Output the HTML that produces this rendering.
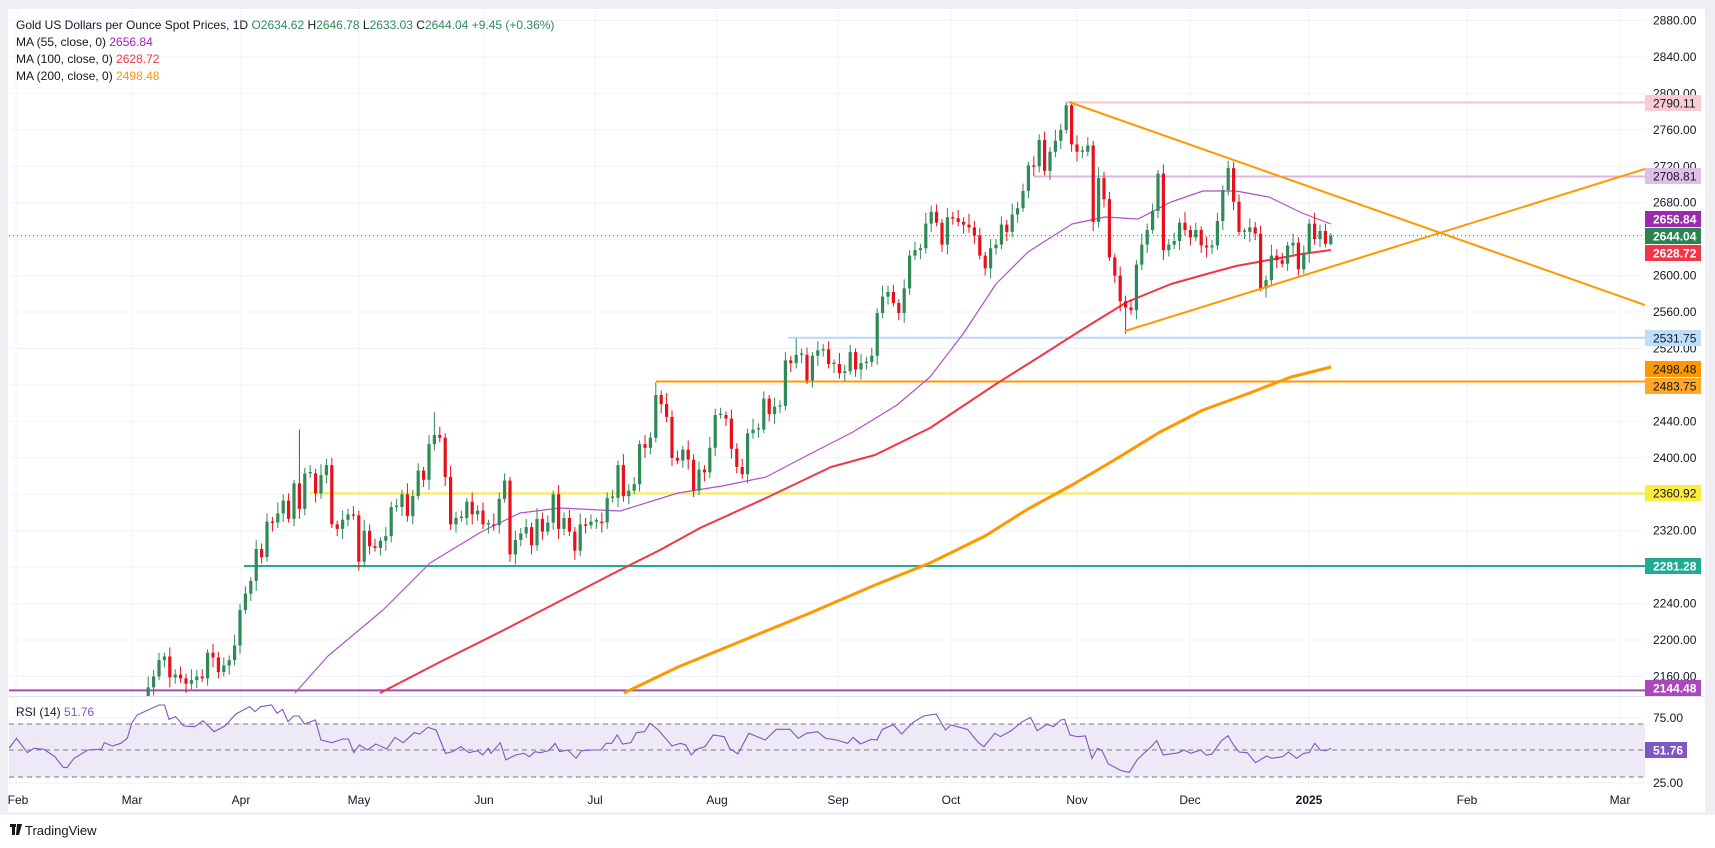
<!DOCTYPE html>
<html><head><meta charset="utf-8"><style>
html,body{margin:0;padding:0;background:#fff;}
svg{display:block;font-family:"Liberation Sans",sans-serif;}
</style></head><body>
<svg width="1715" height="848" viewBox="0 0 1715 848" xmlns="http://www.w3.org/2000/svg">
<defs>
<clipPath id="cp"><rect x="9" y="10" width="1636" height="686"/></clipPath>
<clipPath id="cr"><rect x="9" y="697" width="1636" height="89"/></clipPath>
</defs>
<rect x="0" y="0" width="1715" height="848" fill="#fff"/>
<rect x="0" y="0" width="1715" height="9" fill="#eeeef3"/>
<rect x="0" y="0" width="8" height="813" fill="#eeeef3"/>
<rect x="1705" y="0" width="10" height="813" fill="#eeeef3"/>
<rect x="0" y="812" width="1715" height="3" fill="#eeeef3"/>
<g stroke="#f0f3fa" stroke-width="1">
<line x1="9" x2="1645" y1="20.5" y2="20.5"/><line x1="9" x2="1645" y1="56.9" y2="56.9"/><line x1="9" x2="1645" y1="93.4" y2="93.4"/><line x1="9" x2="1645" y1="129.8" y2="129.8"/><line x1="9" x2="1645" y1="166.3" y2="166.3"/><line x1="9" x2="1645" y1="202.7" y2="202.7"/><line x1="9" x2="1645" y1="239.2" y2="239.2"/><line x1="9" x2="1645" y1="275.6" y2="275.6"/><line x1="9" x2="1645" y1="312" y2="312"/><line x1="9" x2="1645" y1="348.5" y2="348.5"/><line x1="9" x2="1645" y1="384.9" y2="384.9"/><line x1="9" x2="1645" y1="421.4" y2="421.4"/><line x1="9" x2="1645" y1="457.8" y2="457.8"/><line x1="9" x2="1645" y1="494.3" y2="494.3"/><line x1="9" x2="1645" y1="530.7" y2="530.7"/><line x1="9" x2="1645" y1="567.1" y2="567.1"/><line x1="9" x2="1645" y1="603.6" y2="603.6"/><line x1="9" x2="1645" y1="640" y2="640"/><line x1="9" x2="1645" y1="676.5" y2="676.5"/>
<line x1="9" x2="1645" y1="718" y2="718"/><line x1="9" x2="1645" y1="783" y2="783"/>
<line x1="16" x2="16" y1="10" y2="786"/><line x1="132" x2="132" y1="10" y2="786"/><line x1="241" x2="241" y1="10" y2="786"/><line x1="359" x2="359" y1="10" y2="786"/><line x1="484" x2="484" y1="10" y2="786"/><line x1="595" x2="595" y1="10" y2="786"/><line x1="717" x2="717" y1="10" y2="786"/><line x1="838" x2="838" y1="10" y2="786"/><line x1="951" x2="951" y1="10" y2="786"/><line x1="1077" x2="1077" y1="10" y2="786"/><line x1="1190" x2="1190" y1="10" y2="786"/><line x1="1309" x2="1309" y1="10" y2="786"/><line x1="1467" x2="1467" y1="10" y2="786"/><line x1="1620" x2="1620" y1="10" y2="786"/>
</g>
<rect x="9" y="724" width="1636" height="53" fill="#ede9f7"/>
<g stroke="#787b86" stroke-dasharray="5,4" stroke-width="1">
<line x1="9" y1="724" x2="1645" y2="724"/><line x1="9" y1="750" x2="1645" y2="750"/><line x1="9" y1="777" x2="1645" y2="777"/>
</g>
<line x1="9" y1="696.5" x2="1705" y2="696.5" stroke="#e0e3eb"/>

<g clip-path="url(#cp)" stroke-width="2">
<line x1="1066" x2="1645" y1="102.4" y2="102.4" stroke="#f7c5ca"/>
<line x1="1034" x2="1645" y1="176.5" y2="176.5" stroke="#dcb5e4"/>
<line x1="788" x2="1645" y1="337.8" y2="337.8" stroke="#b8d8f5"/>
<line x1="656" x2="1645" y1="381.5" y2="381.5" stroke="#ff9800"/>
<line x1="310" x2="1645" y1="493.4" y2="493.4" stroke="#ffeb3b"/>
<line x1="244" x2="1645" y1="566" y2="566" stroke="#22ab94"/>
<line x1="9" x2="1645" y1="690.4" y2="690.4" stroke="#ab47bc"/>
<line x1="9" x2="1645" y1="235.6" y2="235.6" stroke="#2e7d4f" stroke-width="1" stroke-dasharray="1,3"/>
</g>

<g clip-path="url(#cp)" fill="none" stroke-linejoin="round">
<polyline stroke="#ff9800" stroke-width="3" points="624,693 678,667 744,640 810,613 875,585 930,563 985,536 1028,509 1072,485 1116,459 1160,432 1203,410 1247,394 1291,377 1331,367"/>
<polyline stroke="#f23645" stroke-width="2" points="380,693 440,662 500,632 560,601 620,570 660,550 700,528 766,498 831,467 875,455 930,428 963,406 996,384 1039,357 1083,329 1127,302 1171,284 1203,275 1236,266 1269,260 1302,254 1331,250"/>
<polyline stroke="#b04fcf" stroke-width="1.2" points="295,693 328,656 383,610 430,563 481,532 520,513 560,508 620,511 678,493 722,486 766,477 810,454 853,432 897,405 930,377 963,334 996,284 1028,252 1072,224 1105,217 1138,219 1171,202 1203,191 1236,191 1269,197 1302,213 1331,224"/>
</g>

<g clip-path="url(#cp)">
<g transform="matrix(5.4 0 0 -0.9111 132 2644.47)" fill="none">
<path stroke="#2f8a57" stroke-width="1" vector-effect="non-scaling-stroke" d="M0 2037V2089M1 2078V2124M2 2105V2133M3 2122V2160M4 2139V2167M5 2156V2186M6 2170V2186M8 2152V2168M11 2146V2168M12 2147V2167M14 2150V2190M17 2160V2181M18 2162V2183M19 2172V2206M20 2185V2240M21 2229V2259M22 2243V2269M23 2254V2310M25 2286V2339M27 2323V2351M28 2330V2360M30 2325V2376M32 2337V2389M33 2378V2392M35 2355V2393M36 2372V2399M39 2311V2342M40 2325V2344M43 2280V2332M46 2293V2313M47 2298V2324M48 2307V2352M49 2341V2355M50 2336V2365M52 2327V2365M53 2354V2394M55 2365V2425M56 2408V2450M60 2318V2341M61 2330V2342M62 2326V2356M64 2331V2348M66 2317V2332M68 2317V2362M69 2351V2383M71 2283V2320M72 2303V2323M73 2312V2333M75 2298V2345M77 2315V2337M78 2321V2364M80 2315V2340M83 2292V2339M85 2322V2338M86 2322V2334M88 2322V2362M89 2351V2365M90 2346V2397M92 2349V2371M93 2360V2379M94 2363V2419M96 2404V2428M97 2417V2483M102 2389V2413M105 2359V2396M107 2378V2423M108 2402V2454M109 2443V2455M114 2372V2432M115 2421V2443M116 2422V2438M117 2427V2473M119 2437V2466M120 2449V2463M121 2452V2516M123 2498V2531M124 2504V2520M126 2477V2516M127 2501V2528M128 2511V2525M130 2493V2508M132 2484V2502M133 2491V2524M135 2486V2514M136 2497V2511M137 2500V2521M138 2502V2564M139 2553V2589M140 2568V2589M143 2548V2596M144 2579V2628M145 2617V2637M146 2618V2635M147 2624V2669M148 2648V2677M151 2623V2674M159 2597V2640M160 2623V2640M161 2629V2665M163 2642V2679M164 2658V2681M165 2670V2701M166 2685V2725M168 2713V2755M170 2705V2741M171 2730V2760M172 2739V2767M173 2756V2790M176 2729V2742M177 2731V2752M179 2653V2719M186 2552V2617M187 2606V2646M188 2625V2657M189 2646V2679M190 2663V2716M192 2621V2640M193 2629V2647M194 2628V2663M197 2638V2658M200 2624V2639M201 2628V2669M202 2650V2699M203 2688V2726M206 2640V2652M207 2637V2663M210 2576V2600M211 2589V2634M214 2605V2637M215 2622V2646M217 2602V2633M218 2614V2662M220 2631V2656M222 2633V2646.8"/>
<path stroke="#2f8a57" stroke-width="3.2" vector-effect="non-scaling-stroke" d="M0 2044V2083M1 2083V2115M2 2115V2128M3 2128V2148M4 2148V2160M5 2160V2178M6 2178V2182M8 2159V2162M11 2152V2156M12 2156V2160M14 2158V2186M17 2165V2172M18 2172V2178M19 2178V2194M20 2194V2233M21 2233V2251M22 2251V2265M23 2265V2300M25 2291V2330M27 2329V2339M28 2339V2353M30 2333V2372M32 2344V2383M33 2383V2384.5M35 2361V2381M36 2381V2392M39 2322V2332M40 2332V2338M43 2286V2320M46 2301V2309M47 2309V2314M48 2314V2346M49 2346V2347.5M50 2346V2360M52 2336V2358M53 2358V2386M55 2376V2415M56 2415V2425M60 2327V2334M61 2334V2335.5M62 2334V2352M64 2338V2342M66 2327V2328.5M68 2326V2355M69 2355V2375M71 2294V2310M72 2310V2317M73 2317V2324M75 2304V2333M77 2319V2329M78 2329V2360M80 2322V2334M83 2298V2327M85 2326V2330M86 2330V2331.5M88 2329V2356M89 2356V2357.5M90 2356V2392M92 2358V2364M93 2364V2371M94 2371V2415M96 2411V2422M97 2422V2469M102 2397V2409M105 2364V2387M107 2384V2411M108 2411V2447M109 2447V2448.5M114 2382V2427M115 2427V2431M116 2431V2432.5M117 2431V2465M119 2448V2456M120 2456V2457.5M121 2457V2507M123 2504V2513M124 2513V2514.5M126 2485V2512M127 2512V2518M128 2518V2519.5M130 2503V2504.5M132 2493V2495M133 2495V2516M135 2497V2504M136 2504V2505.5M137 2505V2512M138 2512V2559M139 2559V2577M140 2577V2582M143 2559V2586M144 2586V2622M145 2622V2628M146 2628V2630M147 2630V2657M148 2657V2670M151 2634V2664M159 2608V2630M160 2630V2634M161 2634V2656M163 2648V2667M164 2667V2674M165 2674V2693M166 2693V2721M168 2720V2749M170 2715V2736M171 2736V2748M172 2748V2760M173 2760V2787M176 2736V2737.5M177 2736V2743M179 2659V2707M186 2562V2612M187 2612V2634M188 2634V2650M189 2650V2671M190 2671V2712M192 2628V2634M193 2634V2638M194 2638V2658M197 2642V2650M200 2631V2633M201 2633V2660M202 2660V2694M203 2694V2718M206 2648V2649.5M207 2648V2653M210 2586V2595M211 2595V2622M214 2613V2633M215 2633V2636M217 2607V2624M218 2624V2657M220 2640V2649M222 2634.62V2644.04"/>
<path stroke="#e8101a" stroke-width="1" vector-effect="non-scaling-stroke" d="M7 2148V2192M9 2153V2171M10 2142V2163M13 2154V2168M15 2170V2196M16 2158V2187M24 2284V2306M26 2319V2335M29 2329V2361M31 2333V2431M34 2351V2388M37 2323V2400M38 2314V2331M41 2332V2347M42 2276V2342M44 2294V2327M45 2297V2311M51 2330V2372M54 2368V2390M57 2417V2434M58 2369V2427M59 2321V2391M63 2327V2362M65 2322V2351M67 2320V2339M70 2286V2379M74 2294V2329M76 2310V2340M79 2311V2370M81 2314V2343M82 2288V2324M84 2317V2334M87 2318V2340M91 2352V2404M95 2400V2425M98 2449V2474M99 2439V2471M100 2391V2452M101 2393V2408M103 2387V2419M104 2357V2404M106 2374V2392M110 2435V2451M111 2399V2453M112 2383V2416M113 2377V2399M118 2440V2469M122 2494V2512M125 2481V2521M129 2498V2528M131 2487V2515M134 2489V2520M141 2566V2590M142 2551V2574M149 2654V2678M150 2626V2662M152 2656V2670M153 2654V2672M154 2646V2664M155 2647V2668M156 2635V2660M157 2618V2652M158 2600V2626M162 2638V2661M167 2709V2731M169 2710V2758M174 2736V2791M175 2725V2754M178 2649V2748M180 2675V2714M181 2616V2692M182 2592V2624M183 2561V2610M184 2536V2578M185 2557V2574M191 2617V2722M195 2644V2670M196 2633V2655M198 2625V2654M199 2620V2643M204 2672V2725M205 2644V2689M208 2639V2659M209 2583V2655M212 2608V2629M213 2609V2625M216 2600V2642M219 2634V2669M221 2631V2657"/>
<path stroke="#e8101a" stroke-width="3.2" vector-effect="non-scaling-stroke" d="M7 2182V2159M9 2162V2158M10 2158V2152M13 2160V2158M15 2186V2181M16 2181V2165M24 2300V2291M26 2330V2328.5M29 2353V2333M31 2372V2344M34 2383V2361M37 2392V2327M38 2327V2322M41 2338V2336.5M42 2337V2286M44 2320V2303M45 2303V2301M51 2360V2336M54 2386V2376M57 2425V2422M58 2422V2379M59 2379V2327M63 2352V2338M65 2342V2327M67 2327V2325.5M70 2375V2294M74 2324V2304M76 2333V2319M79 2360V2322M81 2334V2319M82 2319V2298M84 2327V2325.5M87 2330V2328.5M91 2392V2358M95 2415V2411M98 2469V2459M99 2459V2445M100 2445V2400M101 2400V2397M103 2409V2398M104 2398V2364M106 2387V2384M110 2447V2443M111 2443V2410M112 2410V2390M113 2390V2382M118 2465V2448M122 2507V2504M125 2513V2485M129 2519V2503M131 2503V2493M134 2516V2497M141 2582V2570M142 2570V2559M149 2670V2658M150 2658V2634M152 2664V2662.5M153 2663V2659M154 2659V2656M155 2656V2653M156 2653V2644M157 2644V2622M158 2622V2608M162 2656V2648M167 2721V2719.5M169 2749V2715M174 2787V2744M175 2744V2736M178 2743V2659M180 2707V2684M181 2684V2620M182 2620V2600M183 2600V2572M184 2572V2565M185 2565V2562M191 2712V2628M195 2658V2650M196 2650V2642M198 2650V2633M199 2633V2631M204 2718V2681M205 2681V2648M208 2653V2646M209 2646V2586M212 2622V2617M213 2617V2613M216 2636V2607M219 2657V2640M221 2649V2635"/>
</g>
</g>

<g clip-path="url(#cp)" stroke="#ff9800" stroke-width="2">
<line x1="1069" y1="102" x2="1645" y2="305"/>
<line x1="1125" y1="331" x2="1645" y2="169"/>
</g>

<g clip-path="url(#cr)" fill="none">
<polyline transform="matrix(0.5486 0 0 0.3333 0 690)" vector-effect="non-scaling-stroke" stroke="#7e57c2" stroke-width="1.1" points="0,165 18,172 30,145 50,188 62,175 80,178 100,200 115,232 122,233 135,205 160,180 185,177 190,158 205,168 220,160 232,145 240,100 250,75 270,60 290,45 300,45 308,88 320,80 335,108 355,110 370,92 390,125 410,108 430,72 455,50 465,65 475,50 495,45 505,70 515,58 525,95 535,78 545,78 555,102 575,90 585,150 605,158 625,147 635,147 645,188 655,165 670,180 685,162 705,177 720,142 735,158 755,128 765,132 780,112 795,120 812,190 825,185 840,170 855,188 870,182 880,195 890,175 895,190 912,158 922,210 940,195 955,190 965,200 975,185 985,188 1000,182 1012,160 1020,185 1035,180 1050,205 1060,182 1080,180 1095,180 1105,160 1115,160 1125,135 1135,162 1150,158 1160,128 1175,125 1185,100 1200,120 1225,168 1240,160 1250,165 1260,195 1270,178 1285,170 1300,135 1320,140 1330,175 1345,192 1365,130 1380,140 1395,150 1415,118 1440,118 1455,145 1470,130 1490,125 1505,145 1525,150 1545,160 1555,142 1568,160"/>
<polyline transform="matrix(0.5486 0 0 0.3333 855 690)" vector-effect="non-scaling-stroke" stroke="#7e57c2" stroke-width="1.1" points="0,148 10,162 30,148 40,150 50,118 70,104 85,132 105,98 125,78 148,72 165,120 175,105 205,118 225,158 235,170 255,130 265,140 285,122 305,95 320,82 332,122 350,103 362,110 375,90 382,88 392,135 405,140 420,138 432,205 442,175 450,182 462,222 485,242 500,247 515,208 540,170 550,152 562,195 590,188 600,180 612,190 630,180 640,195 650,193 668,152 680,137 690,165 700,186 715,188 730,218 750,198 760,205 780,200 790,186 805,205 818,190 828,188 838,160 848,180 858,182 868,175"/>
</g>

<g font-size="12" fill="#131722">
<text x="16" y="29">Gold US Dollars per Ounce Spot Prices, 1D <tspan fill="#2f8a57">O2634.62</tspan> H<tspan fill="#2f8a57">2646.78</tspan> L<tspan fill="#2f8a57">2633.03</tspan> C<tspan fill="#2f8a57">2644.04</tspan> <tspan fill="#2f8a57">+9.45 (+0.36%)</tspan></text>
<text x="16" y="46">MA (55, close, 0) <tspan fill="#9c27b0">2656.84</tspan></text>
<text x="16" y="63">MA (100, close, 0) <tspan fill="#f23645">2628.72</tspan></text>
<text x="16" y="80">MA (200, close, 0) <tspan fill="#ff9800">2498.48</tspan></text>
<text x="16" y="716">RSI (14) <tspan fill="#7e57c2">51.76</tspan></text>
</g>
<g font-size="12" fill="#131722">
<text x="1653" y="24.5">2880.00</text><text x="1653" y="60.9">2840.00</text><text x="1653" y="97.4">2800.00</text><text x="1653" y="133.8">2760.00</text><text x="1653" y="170.3">2720.00</text><text x="1653" y="206.7">2680.00</text><text x="1653" y="279.6">2600.00</text><text x="1653" y="316">2560.00</text><text x="1653" y="352.5">2520.00</text><text x="1653" y="425.4">2440.00</text><text x="1653" y="461.8">2400.00</text><text x="1653" y="534.7">2320.00</text><text x="1653" y="607.6">2240.00</text><text x="1653" y="644">2200.00</text><text x="1653" y="680.5">2160.00</text>
<text x="1653" y="722">75.00</text><text x="1653" y="787">25.00</text>
</g>
<g font-size="12" fill="#131722" text-anchor="middle">
<text x="18" y="804">Feb</text><text x="132" y="804">Mar</text><text x="241" y="804">Apr</text><text x="359" y="804">May</text><text x="484" y="804">Jun</text><text x="595" y="804">Jul</text><text x="717" y="804">Aug</text><text x="838" y="804">Sep</text><text x="951" y="804">Oct</text><text x="1077" y="804">Nov</text><text x="1190" y="804">Dec</text><text x="1309" y="804" font-weight="bold">2025</text><text x="1467" y="804">Feb</text><text x="1620" y="804">Mar</text>
</g>
<g font-size="12">
<rect x="1645" y="95" width="56" height="16" fill="#f8ccd0"/><text x="1653" y="107.5" fill="#131722">2790.11</text>
<rect x="1645" y="168" width="56" height="16" fill="#e1bee7"/><text x="1653" y="180.5" fill="#131722">2708.81</text>
<rect x="1645" y="211" width="56" height="16" fill="#9c27b0"/><text x="1653" y="223.5" fill="#fff" font-weight="bold">2656.84</text>
<rect x="1645" y="228" width="56" height="16" fill="#2a8450"/><text x="1653" y="240.5" fill="#fff" font-weight="bold">2644.04</text>
<rect x="1645" y="245" width="56" height="16" fill="#f23645"/><text x="1653" y="257.5" fill="#fff" font-weight="bold">2628.72</text>
<rect x="1645" y="330" width="56" height="16" fill="#bbdefb"/><text x="1653" y="342.5" fill="#131722">2531.75</text>
<rect x="1645" y="361" width="56" height="16" fill="#ff9800"/><text x="1653" y="373.5" fill="#131722">2498.48</text>
<rect x="1645" y="378" width="56" height="16" fill="#ffa726"/><text x="1653" y="390.5" fill="#131722">2483.75</text>
<rect x="1645" y="485" width="56" height="16" fill="#ffeb3b"/><text x="1653" y="497.5" fill="#131722">2360.92</text>
<rect x="1645" y="558" width="56" height="16" fill="#22ab94"/><text x="1653" y="570.5" fill="#fff" font-weight="bold">2281.28</text>
<rect x="1645" y="680" width="56" height="16" fill="#ab47bc"/><text x="1653" y="692.5" fill="#fff" font-weight="bold">2144.48</text>
<rect x="1645" y="742" width="42" height="16" fill="#7e57c2"/><text x="1653" y="754.5" fill="#fff" font-weight="bold">51.76</text>
</g>
<g fill="#131722"><rect x="10" y="824" width="6" height="3"/><rect x="12" y="824" width="3" height="11"/><path d="M17 824h5l-3 11h-3z"/><text x="25" y="835" font-size="13">TradingView</text></g>
</svg>
</body></html>
